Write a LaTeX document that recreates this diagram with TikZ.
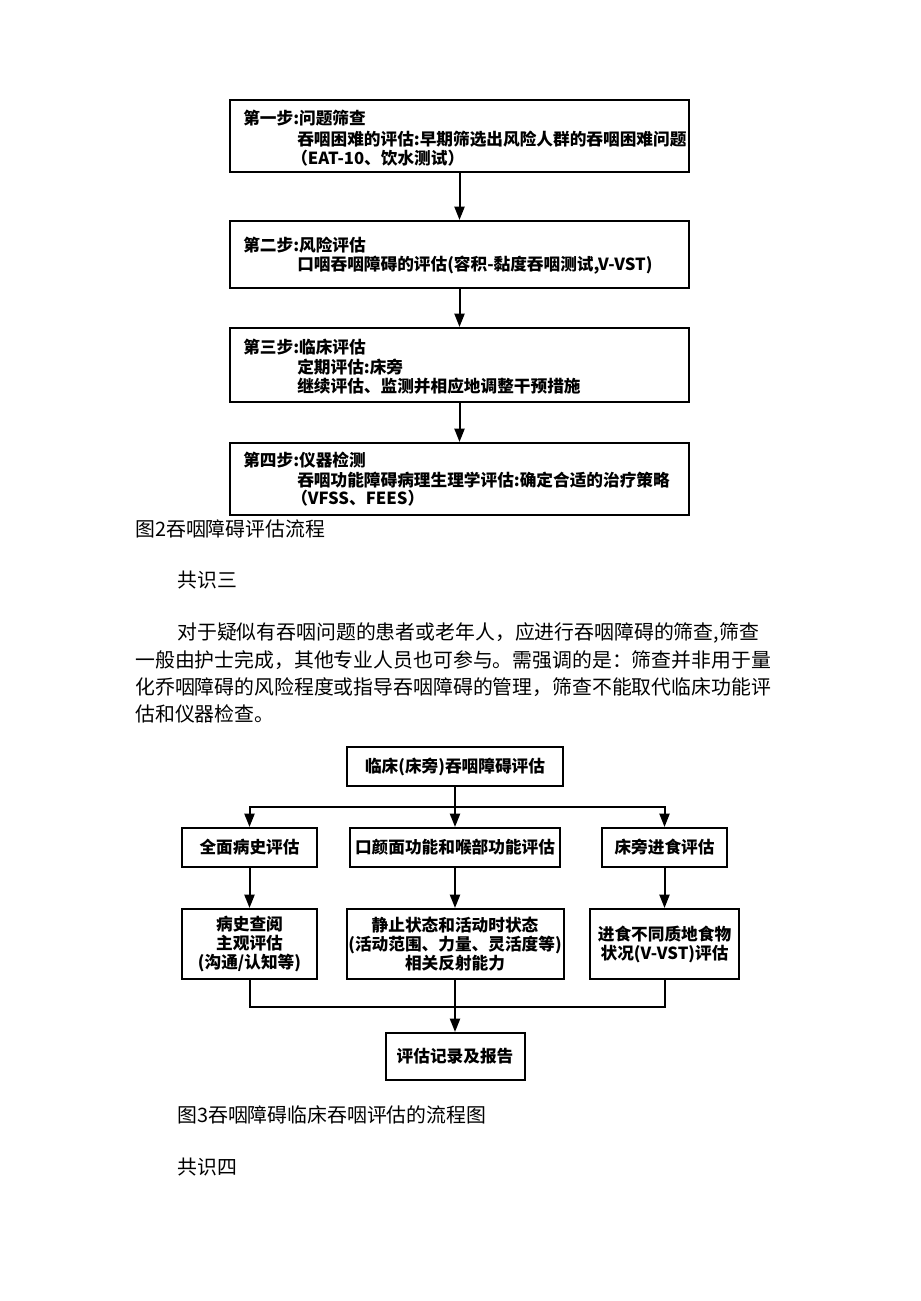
\documentclass[tikz,border=0pt]{standalone}
\usepackage{fontspec}
\setmainfont{Noto Sans CJK SC}
\usetikzlibrary{arrows.meta}

\newcommand{\flowfont}{\bfseries\fontsize{12.5pt}{14.3pt}\selectfont}
\newcommand{\parafont}{\fontsize{14.9pt}{18pt}\selectfont}

\begin{document}
\begin{tikzpicture}[x=0.75pt,y=-0.75pt,
  box/.style={draw,line width=1.5pt,inner sep=0pt,font=\flowfont,align=center},
  txt/.style={anchor=west,inner sep=0pt,font=\flowfont},
  para/.style={anchor=west,inner sep=0pt,font=\parafont},
  arr/.style={line width=1.5pt,-{Triangle[length=10pt,width=7.5pt]}},
  link/.style={line width=1.5pt},
]
  \useasboundingbox (0,0) rectangle (920,1301);

  % figure 2: the four steps
  \node[box,minimum width=344.25pt,minimum height=54pt] (s1) at (459.5,136) {};
  \node[box,minimum width=344.25pt,minimum height=50.25pt] (s2) at (459.5,254.5) {};
  \node[box,minimum width=344.25pt,minimum height=55.5pt] (s3) at (459.5,365) {};
  \node[box,minimum width=344.25pt,minimum height=54pt] (s4) at (459.5,479) {};
  \draw[arr] (s1) -- (s2);
  \draw[arr] (s2) -- (s3);
  \draw[arr] (s3) -- (s4);

  \node[txt] (s1a) at (243,118) {第一步:问题筛查};
  \node[txt] (s1b) at (297,139) {吞咽困难的评估:早期筛选出风险人群的吞咽困难问题};
  \node[txt] (s1c) at (291,158) {（EAT-10、饮水测试）};
  \node[txt] (s2a) at (243,245) {第二步:风险评估};
  \node[txt] (s2b) at (297,265) {口咽吞咽障碍的评估(容积-黏度吞咽测试,V-VST)};
  \node[txt] (s3a) at (243,347) {第三步:临床评估};
  \node[txt] (s3b) at (297,367) {定期评估:床旁};
  \node[txt] (s3c) at (297,386) {继续评估、监测并相应地调整干预措施};
  \node[txt] (s4a) at (243,460) {第四步:仪器检测};
  \node[txt] (s4b) at (297,480) {吞咽功能障碍病理生理学评估:确定合适的治疗策略};
  \node[txt] (s4c) at (291,498) {（VFSS、FEES）};

  % text of the page
  \node[para] (cap2) at (135,529) {图2吞咽障碍评估流程};
  \node[para] (gs3) at (177,580) {共识三};
  \node[para] (p1) at (177,633) {对于疑似有吞咽问题的患者或老年人，应进行吞咽障碍的筛查,筛查};
  \node[para] (p2) at (135,660) {一般由护士完成，其他专业人员也可参与。需强调的是：筛查并非用于量};
  \node[para] (p3) at (135,687) {化乔咽障碍的风险程度或指导吞咽障碍的管理，筛查不能取代临床功能评};
  \node[para] (p4) at (135,714) {估和仪器检查。};

  % figure 3: clinical assessment
  \node[box,minimum width=162pt,minimum height=29.25pt] (clin) at (455,766.5) {临床(床旁)吞咽障碍评估};
  \node[box,minimum width=101.25pt,minimum height=29.25pt] (hist) at (249.5,847.5) {全面病史评估};
  \node[box,minimum width=157.5pt,minimum height=29.25pt] (oral) at (455,847.5) {口颜面功能和喉部功能评估};
  \node[box,minimum width=93.75pt,minimum height=29.25pt] (feed) at (664.5,847.5) {床旁进食评估};
  \node[box,minimum width=101.25pt,minimum height=52.5pt] (hist2) at (249.5,944) {病史查阅\\主观评估\\(沟通/认知等)};
  \node[box,minimum width=162.75pt,minimum height=52.5pt] (oral2) at (455,944) {静止状态和活动时状态\\(活动范围、力量、灵活度等)\\相关反射能力};
  \node[box,minimum width=111.75pt,minimum height=52.5pt] (feed2) at (664.5,944) {进食不同质地食物\\状况(V-VST)评估};
  \node[box,minimum width=104.25pt,minimum height=35.25pt] (rep) at (455,1056.5) {评估记录及报告};

  \coordinate (jt) at (455,807);
  \coordinate (jb) at (455,1007);
  \draw[arr] (clin) -- (oral);
  \draw[arr] (jt) -| (hist);
  \draw[arr] (jt) -| (feed);
  \draw[arr] (hist) -- (hist2);
  \draw[arr] (oral) -- (oral2);
  \draw[arr] (feed) -- (feed2);
  \draw[link] (hist2.south) |- (jb) -| (feed2.south);
  \draw[arr] (oral2) -- (rep);

  \node[para] (cap3) at (177,1115) {图3吞咽障碍临床吞咽评估的流程图};
  \node[para] (gs4) at (177,1167) {共识四};
\end{tikzpicture}
\end{document}
